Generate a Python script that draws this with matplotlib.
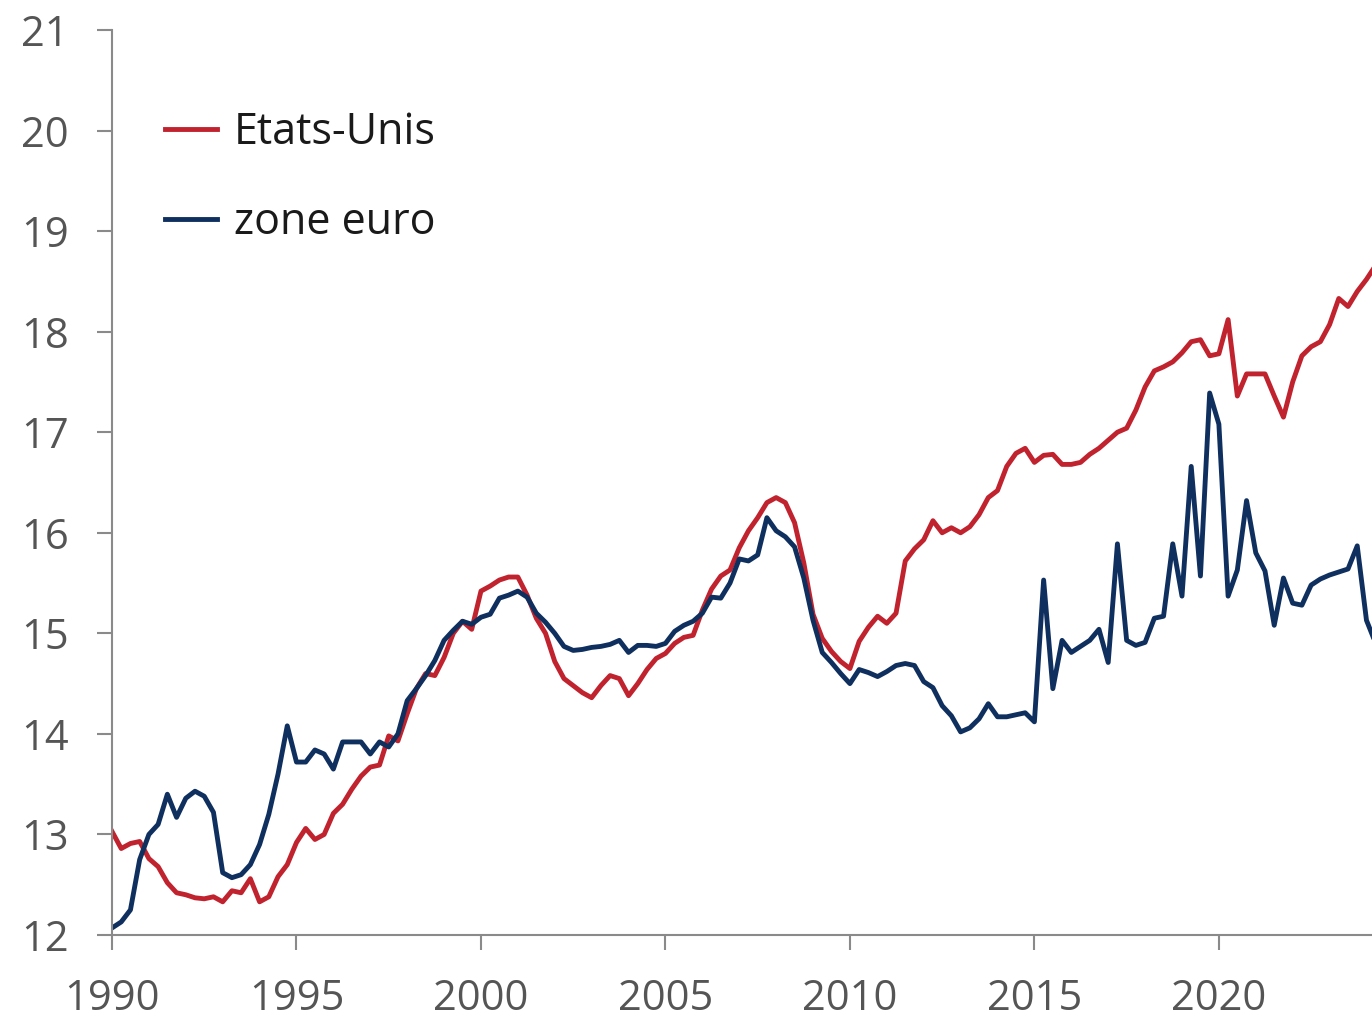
import numpy as np
import pandas as pd
import matplotlib
matplotlib.use("Agg")
import matplotlib.pyplot as plt

# Quarterly data, 1990Q1 onward
etats_unis = [
    13.03, 12.86, 12.91, 12.93,  # 1990
    12.76, 12.68, 12.52, 12.42,  # 1991
    12.40, 12.37, 12.36, 12.38,  # 1992
    12.33, 12.44, 12.42, 12.56,  # 1993
    12.33, 12.38, 12.58, 12.70,  # 1994
    12.92, 13.06, 12.95, 13.00,  # 1995
    13.21, 13.30, 13.45, 13.58,  # 1996
    13.67, 13.69, 13.98, 13.93,  # 1997
    14.20, 14.45, 14.60, 14.58,  # 1998
    14.76, 15.00, 15.12, 15.04,  # 1999
    15.42, 15.47, 15.53, 15.56,  # 2000
    15.56, 15.38, 15.15, 15.00,  # 2001
    14.72, 14.55, 14.48, 14.41,  # 2002
    14.36, 14.48, 14.58, 14.55,  # 2003
    14.38, 14.50, 14.64, 14.75,  # 2004
    14.80, 14.90, 14.96, 14.98,  # 2005
    15.23, 15.44, 15.57, 15.63,  # 2006
    15.85, 16.02, 16.15, 16.30,  # 2007
    16.35, 16.30, 16.10, 15.70,  # 2008
    15.19, 14.95, 14.82, 14.72,  # 2009
    14.65, 14.92, 15.06, 15.17,  # 2010
    15.10, 15.20, 15.72, 15.84,  # 2011
    15.93, 16.12, 16.00, 16.05,  # 2012
    16.00, 16.06, 16.18, 16.35,  # 2013
    16.42, 16.66, 16.79, 16.84,  # 2014
    16.70, 16.77, 16.78, 16.68,  # 2015
    16.68, 16.70, 16.78, 16.84,  # 2016
    16.92, 17.00, 17.04, 17.22,  # 2017
    17.45, 17.61, 17.65, 17.70,  # 2018
    17.79, 17.90, 17.92, 17.76,  # 2019
    17.78, 18.12, 17.36, 17.58,  # 2020
    17.58, 17.58, 17.36, 17.15,  # 2021
    17.50, 17.76, 17.85, 17.90,  # 2022
    18.07, 18.33, 18.25, 18.40,  # 2023
    18.52, 18.66,                # 2024
]

zone_euro = [
    12.07, 12.13, 12.25, 12.75,  # 1990
    13.00, 13.10, 13.40, 13.17,  # 1991
    13.36, 13.43, 13.38, 13.22,  # 1992
    12.62, 12.57, 12.60, 12.70,  # 1993
    12.90, 13.20, 13.60, 14.08,  # 1994
    13.72, 13.72, 13.84, 13.80,  # 1995
    13.65, 13.92, 13.92, 13.92,  # 1996
    13.80, 13.92, 13.87, 14.00,  # 1997
    14.33, 14.45, 14.58, 14.73,  # 1998
    14.93, 15.03, 15.12, 15.09,  # 1999
    15.16, 15.19, 15.35, 15.38,  # 2000
    15.42, 15.36, 15.20, 15.11,  # 2001
    15.00, 14.87, 14.83, 14.84,  # 2002
    14.86, 14.87, 14.89, 14.93,  # 2003
    14.81, 14.88, 14.88, 14.87,  # 2004
    14.90, 15.02, 15.08, 15.12,  # 2005
    15.20, 15.36, 15.35, 15.50,  # 2006
    15.74, 15.72, 15.78, 16.15,  # 2007
    16.02, 15.96, 15.86, 15.55,  # 2008
    15.13, 14.81, 14.71, 14.60,  # 2009
    14.50, 14.64, 14.61, 14.57,  # 2010
    14.62, 14.68, 14.70, 14.68,  # 2011
    14.52, 14.46, 14.28, 14.18,  # 2012
    14.02, 14.06, 14.15, 14.30,  # 2013
    14.17, 14.17, 14.19, 14.21,  # 2014
    14.12, 15.53, 14.45, 14.93,  # 2015
    14.81, 14.87, 14.93, 15.04,  # 2016
    14.71, 15.89, 14.93, 14.88,  # 2017
    14.91, 15.15, 15.17, 15.89,  # 2018
    15.37, 16.66, 15.57, 17.39,  # 2019
    17.08, 15.37, 15.63, 16.32,  # 2020
    15.80, 15.62, 15.08, 15.55,  # 2021
    15.30, 15.28, 15.48, 15.54,  # 2022
    15.58, 15.61, 15.64, 15.87,  # 2023
    15.13, 14.90,                # 2024
]

series_labels = ["Etats-Unis", "zone euro"]
x_ticks = [1990, 1995, 2000, 2005, 2010, 2015, 2020]
y_ticks = [12, 13, 14, 15, 16, 17, 18, 19, 20, 21]

quarters = pd.period_range("1990Q1", periods=len(etats_unis), freq="Q")
t = np.array([p.year + (p.quarter - 1) / 4 for p in quarters])

plt.rcParams["font.family"] = ["Open Sans", "DejaVu Sans"]

fig = plt.figure(figsize=(13.72, 10.18), dpi=100)
ax = fig.add_axes([112 / 1372, (1018 - 935) / 1018, 1 - 112 / 1372, (935 - 30) / 1018])

red = "#c0222e"
navy = "#0f2f5e"
ax.plot(t, etats_unis, color=red, lw=3.5, label=series_labels[0], solid_joinstyle="round")
ax.plot(t, zone_euro[:len(t)], color=navy, lw=3.5, label=series_labels[1], solid_joinstyle="round")

ax.set_xlim(1990, 2024.15)
ax.set_ylim(12, 21)
ax.set_xticks(x_ticks)
ax.set_yticks(y_ticks)

axis_col = "#8a8a8a"
for s in ["top", "right"]:
    ax.spines[s].set_visible(False)
for s in ["left", "bottom"]:
    ax.spines[s].set_color(axis_col)
    ax.spines[s].set_linewidth(1.5)
ax.tick_params(axis="both", direction="out", length=11, width=1.5, color=axis_col,
               labelsize=30, labelcolor="#555555")
ax.tick_params(axis="y", pad=20)
ax.tick_params(axis="x", pad=20)

leg = ax.legend(loc="upper left", bbox_to_anchor=(0.042, 0.911), frameon=False,
                fontsize=31, handlelength=1.2, handletextpad=0.4, labelspacing=1.05,
                borderpad=0, borderaxespad=0)
for txt in leg.get_texts():
    txt.set_color("#1a1a1a")

fig.savefig("out.png", dpi=100)
